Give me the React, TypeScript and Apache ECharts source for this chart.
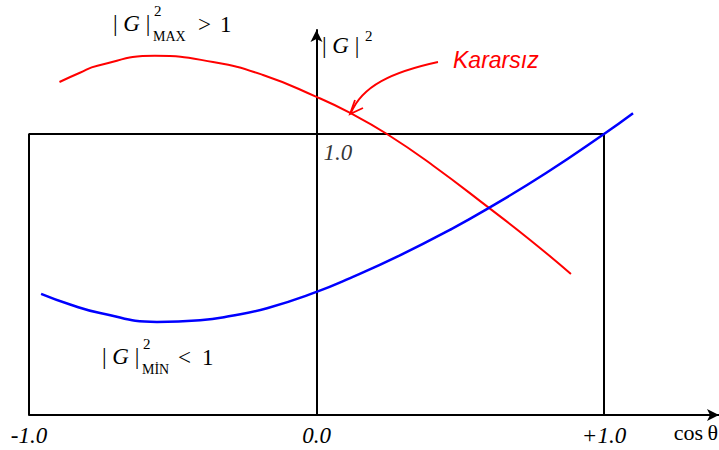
import React, { useEffect, useRef } from "react";
import * as echarts from "echarts";

// cos(theta) axis ticks and their printed labels
const xTicks = [-1, 0, 1];
const xTickLabels = ["-1.0", "0.0", "+1.0"];

// |G|^2 maximum curve (unstable branch)
const maxCos = [-0.894, -0.823, -0.762, -0.562, -0.36, -0.186, 0, 0.117, 0.245, 0.405, 0.6, 0.743, 0.885];
const maxG2 = [1.185, 1.218, 1.243, 1.278, 1.256, 1.21, 1.132, 1.075, 1.0, 0.888, 0.737, 0.623, 0.502];

// |G|^2 minimum curve
const minCos = [-0.958, -0.857, -0.753, -0.555, -0.405, -0.3, -0.172, 0, 0.117, 0.29, 0.464, 0.6, 0.8, 1.0, 1.101];
const minG2 = [0.431, 0.393, 0.363, 0.331, 0.337, 0.352, 0.38, 0.438, 0.487, 0.568, 0.659, 0.737, 0.862, 1.0, 1.074];

// stability box |cos| <= 1, |G|^2 <= 1
const boxCos = [-1, -1, 1, 1];
const boxG2 = [0, 1, 1, 0];

// the unit level marked on the |G|^2 axis
const unitMark = [0, 1];
const unitLabel = "1.0";

const SERIF = "'Liberation Serif', 'Times New Roman', serif";
const SANS = "'Liberation Sans', Arial, sans-serif";

const zip = (xs: number[], ys: number[]) => xs.map((x, i) => [x, ys[i]]);

const gRich = {
  n: { fontFamily: SERIF, fontSize: 23, fill: "#000" },
  g: { fontFamily: SERIF, fontSize: 23, fontStyle: "italic", fill: "#000" },
};

function txt(x: number, y: number, text: string, size: number, extra: object = {}) {
  return {
    type: "text",
    x,
    y,
    style: { text, fontFamily: SERIF, fontSize: size, fill: "#000", verticalAlign: "middle", ...extra },
  };
}

// |G| with stacked superscript 2 and subscript, followed by a relation to 1
function magLabel(x: number, y: number, sub: string, rel: string, relX: number, oneX: number) {
  return {
    type: "group",
    x,
    y,
    children: [
      { type: "text", x: 0, y: 0, style: { text: "{n|| }{g|G}{n| |}", verticalAlign: "middle", rich: gRich } },
      txt(41, -12, "2", 15),
      txt(40, 13, sub, 14),
      txt(relX, 1, rel, 23),
      txt(oneX, 1, "1", 23),
    ],
  };
}

export default function App() {
  const ref = useRef<HTMLDivElement>(null);

  useEffect(() => {
    if (!ref.current) return;
    const chart = echarts.init(ref.current, undefined, { renderer: "svg" });
    chart.setOption({
      animation: false,
      backgroundColor: "#fff",
      grid: { left: 29, right: 0, top: 30, bottom: 35 },
      xAxis: {
        type: "value",
        min: -1,
        max: 1.4,
        interval: 1,
        splitLine: { show: false },
        axisTick: { show: false },
        axisLine: {
          onZero: true,
          lineStyle: { color: "#000", width: 2 },
          symbol: ["none", "arrow"],
          symbolSize: [9, 12],
        },
        axisLabel: {
          margin: 9,
          fontFamily: SERIF,
          fontStyle: "italic",
          fontSize: 23,
          color: "#000",
          showMaxLabel: false,
          formatter: (v: number) => {
            const i = xTicks.indexOf(v);
            return i >= 0 ? xTickLabels[i] : "";
          },
        },
      },
      yAxis: {
        type: "value",
        min: 0,
        max: 1.37,
        interval: 1,
        splitLine: { show: false },
        axisTick: { show: false },
        axisLabel: { show: false },
        axisLine: {
          onZero: true,
          lineStyle: { color: "#000", width: 2 },
          symbol: ["none", "arrow"],
          symbolSize: [9, 12],
        },
      },
      series: [
        {
          name: "box",
          type: "line",
          data: zip(boxCos, boxG2),
          showSymbol: false,
          lineStyle: { color: "#000", width: 2 },
          z: 1,
        },
        {
          name: "max",
          type: "line",
          data: zip(maxCos, maxG2),
          smooth: 0.5,
          showSymbol: false,
          lineStyle: { color: "#ff0000", width: 2 },
          z: 3,
        },
        {
          name: "min",
          type: "line",
          data: zip(minCos, minG2),
          smooth: 0.5,
          showSymbol: false,
          lineStyle: { color: "#0000ff", width: 2.5 },
          z: 3,
        },
        {
          name: "unit",
          type: "scatter",
          data: [unitMark],
          symbolSize: 0,
          silent: true,
          label: {
            show: true,
            formatter: unitLabel,
            position: "right",
            distance: 7,
            offset: [0, 19],
            fontFamily: SERIF,
            fontStyle: "italic",
            fontSize: 23,
            color: "#000",
          },
          z: 4,
        },
      ],
      graphic: [
        magLabel(113, 23, "MAX", ">", 85, 107),
        magLabel(102, 356, "MİN", "<", 76, 100),
        { type: "text", x: 322, y: 45, style: { text: "{n|| }{g|G}{n| |}", verticalAlign: "middle", rich: gRich } },
        txt(365, 36, "2", 15),
        txt(718, 432, "cos\u2009θ", 22, { align: "right" }),
        {
          type: "text",
          x: 453,
          y: 60,
          style: {
            text: "Kararsız",
            fontFamily: SANS,
            fontStyle: "italic",
            fontSize: 23,
            fill: "#ff0000",
            verticalAlign: "middle",
          },
        },
        {
          type: "bezierCurve",
          shape: { x1: 438, y1: 62, cpx1: 392, cpy1: 72, cpx2: 362, cpy2: 86, x2: 351, y2: 113 },
          style: { stroke: "#ff0000", lineWidth: 1.8, fill: "none" },
        },
        {
          type: "polyline",
          shape: { points: [[355, 100], [350, 114], [363, 108]] },
          style: { stroke: "#ff0000", lineWidth: 1.8, fill: "none" },
        },
      ],
    });
    return () => chart.dispose();
  }, []);

  return <div ref={ref} style={{ position: "fixed", left: 0, top: 0, width: 719, height: 450 }} />;
}
